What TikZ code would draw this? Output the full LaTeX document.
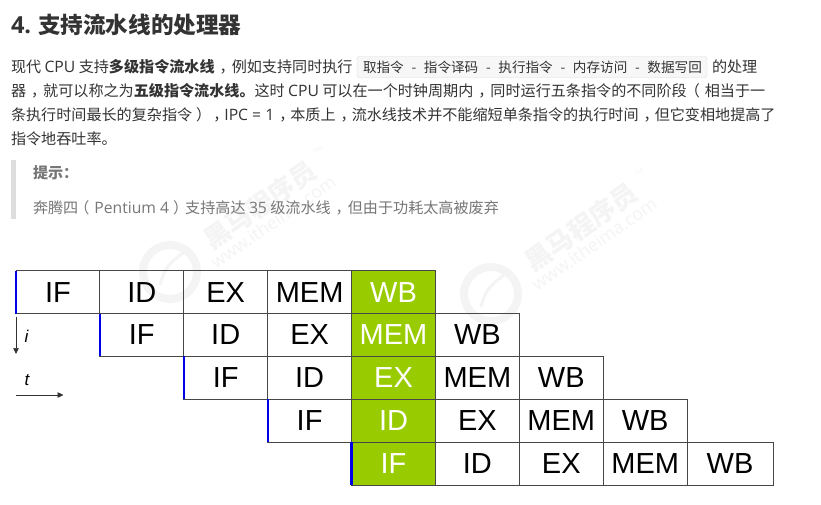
\documentclass[tikz,border=0pt]{standalone}
\usepackage{fontspec}
\setmainfont{Noto Sans CJK SC}
\newfontfamily\lat[Scale=1.04]{Open Sans}
\newfontfamily\cellf{Liberation Sans}
\usetikzlibrary{arrows.meta}
\definecolor{txt}{HTML}{333333}
\definecolor{grn}{HTML}{99CC00}
\definecolor{quote}{HTML}{777777}
\definecolor{bar}{HTML}{DDDDDD}
\definecolor{wm}{HTML}{F4F4F4}
\newcommand{\cm}{\hspace{5pt}，\hspace{-3pt}}
\newcommand{\cmn}{\hspace{5pt}，\hspace{-4pt}}
\newcommand{\lp}{\hspace{-4pt}（\hspace{5pt}}
\newcommand{\rp}{\hspace{4pt}）\hspace{-3pt}}
\newcommand{\sepd}{\hspace{7.7pt}-\hspace{7.7pt}}
\tikzset{
  x=1pt,y=-1pt,
  line/.style={anchor=base west,inner sep=0pt,outer sep=0pt,text=txt,font=\fontsize{15.1}{15.1}\selectfont},
  cell/.style={draw=black!72,line width=0.8pt,minimum width=83.9pt,minimum height=42.9pt,inner sep=0pt,outer sep=0pt,font=\cellf\fontsize{29}{29}\selectfont,text=black},
  hot/.style={cell,fill=grn,text=white},
  startbar/.style={draw=blue!90!black,line width=2.2pt},
  axis/.style={draw=black!80,line width=0.7pt,-{Triangle[length=6pt,width=5.5pt]}},
  wmark/.style={text=wm,rotate=35,inner sep=0pt,font=\bfseries\fontsize{26}{26}\selectfont},
  wsub/.style={text=wm,rotate=35,inner sep=0pt,font=\lat\fontsize{17}{17}\selectfont},
  wtm/.style={text=wm,rotate=35,inner sep=0pt,font=\lat\fontsize{6}{6}\selectfont}
}
\begin{document}
\begin{tikzpicture}
\useasboundingbox (0,0) rectangle (821,504);
\fill[white] (0,0) rectangle (821,504);
% watermarks
\foreach \ox/\oy in {0/0,321/22}{
  \draw[wm,line width=8pt] (170+\ox,272+\oy) circle (27);
  \draw[wm,line width=3pt] (160+\ox,285+\oy) .. controls (165+\ox,265+\oy) and (172+\ox,262+\oy) .. (184+\ox,252+\oy);
  \node[wmark] at (260+\ox,205+\oy) {黑马程序员};
  \node[wsub] at (273+\ox,222+\oy) {www.itheima.com};
  \node[wtm] at (318+\ox,150+\oy) {TM};
}
% heading
\node[line,font=\bfseries\fontsize{22.6}{22.6}\selectfont] (h) at (11,33) {{\lat 4.} 支持流水线的处理器};
% body
\node[draw=black!14,fill=black!3,rounded corners=2.5pt,minimum width=350pt,minimum height=21pt,inner sep=0pt] (code) at (532,67) {};
\node[line] (l1a) at (11,72.5) {现代 {\lat CPU} 支持\textbf{多级指令流水线}\cm 例如支持同时执行};
\node[line,font=\fontsize{13.6}{13.6}\selectfont] (l1b) at (363,72.5) {取指令\sepd 指令译码\sepd 执行指令\sepd 内存访问\sepd 数据写回};
\node[line] (l1c) at (712,72.5) {的处理};
\node[line] (l2) at (11,96.5) {器\cm 就可以称之为\textbf{五级指令流水线。}这时 {\lat CPU} 可以在一个时钟周期内\cm 同时运行五条指令的不同阶段\hspace{2pt}\lp 相当于一};
\node[line] (l3) at (11,120.5) {条执行时间最长的复杂指令\rp\cmn{\lat IPC = 1}\cmn 本质上\cmn 流水线技术并不能缩短单条指令的执行时间\cmn 但它变相地提高了};
\node[line] (l4) at (11,144.5) {指令地吞吐率。};
% quote
\fill[bar] (11,160) rectangle (16,219);
\node[line,text=quote] (q1) at (33,178) {\textbf{提示：}};
\node[line,text=quote] (q2) at (33,213) {奔腾四\lp{\lat Pentium 4}\rp 支持高达 {\lat 35} 级流水线\cm 但由于功耗太高被废弃};
% pipeline table
\foreach \r in {0,...,4}{
  \foreach \n [count=\c from 0] in {IF,ID,EX,MEM,WB} {
    \pgfmathtruncatemacro{\col}{\r+\c}
    \pgfmathsetmacro{\cx}{57.9+83.9*\col}
    \pgfmathsetmacro{\cy}{292.1+42.9*\r}
    \ifnum\col=4
      \node[hot] (c\r\c) at (\cx,\cy) {\n};
    \else
      \ifnum\col=8
        \node[cell,minimum width=85.8pt] (c\r\c) at (\cx+0.95,\cy) {\n};
      \else
        \node[cell] (c\r\c) at (\cx,\cy) {\n};
      \fi
    \fi
  }
}
\foreach \r in {0,...,4}{
  \draw[startbar] (c\r0.north west) -- (c\r0.south west);
}
% axes
\coordinate (ia) at (16,317); \coordinate (ib) at (16,354);
\draw[axis] (ia) -- (ib);
\node[font=\cellf\itshape\fontsize{17}{17}\selectfont,inner sep=0pt] (il) at (26.5,336) {i};
\coordinate (ta) at (16,395); \coordinate (tb) at (63.5,395);
\draw[axis] (ta) -- (tb);
\node[font=\cellf\itshape\fontsize{17}{17}\selectfont,inner sep=0pt] (tl) at (27,380) {t};
\end{tikzpicture}
\end{document}
